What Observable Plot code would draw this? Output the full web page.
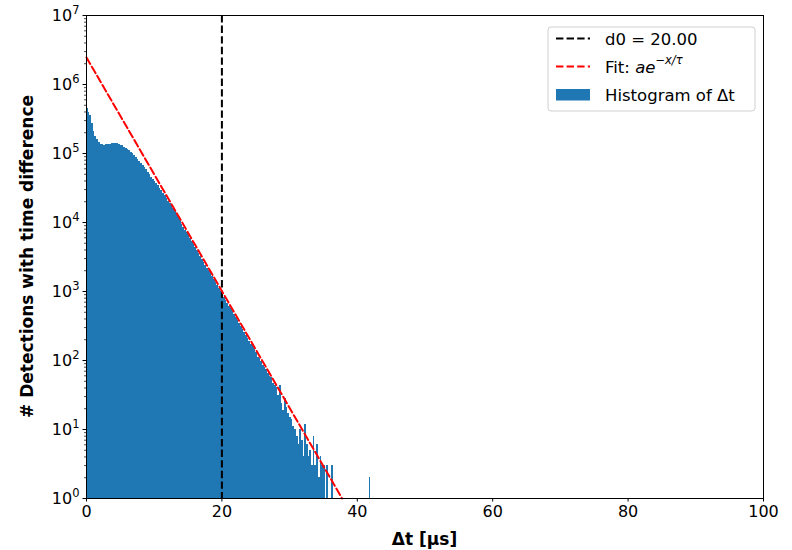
<!DOCTYPE html>
<html><head><meta charset="utf-8">
<script src="https://cdn.jsdelivr.net/npm/d3@7"></script>
<script src="https://cdn.jsdelivr.net/npm/@observablehq/plot@0.6"></script>
<style>body{margin:0;background:#fff}</style>
</head><body><div id="chart"></div>
<script>
// Histogram of Δt (bin width 0.25 µs, starting at 0)
const binWidth = 0.25;
const binOrigin = 0;
const counts = [
447000,398000,351000,275000,207000,178000,158000,146000,136000,133000,
132000,133000,134000,135000,137000,139000,141000,140000,138000,135000,
132000,129000,123000,119000,115000,110000,105000,98900,93300,87500,
82200,77300,72400,68100,63100,58200,53700,49000,45200,41700,
38900,36300,33900,31600,28800,26300,24300,22400,20400,18800,
17400,15800,14600,13300,12200,11100,9460,8570,7780,7060,
6400,5800,5270,4780,4330,3930,3560,3240,2930,2660,
2410,2190,1990,1800,1630,1480,1340,1220,1110,1000,
910,825,748,679,615,558,507,459,417,378,
343,311,282,256,232,210,191,173,165,143,
129,112,106,96,84,79,74,65,59,56,
46,44,40,31,44,24,19,28,21,17,
15,14,11,10,8,6,10,7,4,12,
6,4,5,3,8,3,6,2,4,3,
3,0,3,1,0,3,1,0,1,0,
0,0,0,0,0,0,0,0,0,0,
0,0,0,0,0,0,0,2
];
const d0 = 20;
const fitX = [0, 37.76];
const fitY = [2.46e6, 1];
const xTicks = [0, 20, 40, 60, 80, 100];
const yTicks = [1, 10, 100, 1e3, 1e4, 1e5, 1e6, 1e7];
const xLabel = "Δt [μs]";
const yLabel = "# Detections with time difference";
const legendD0 = "d0 = 20.00";
const legendHist = "Histogram of Δt";

const bins = counts.map((c, i) => ({x1: binOrigin + i * binWidth, x2: binOrigin + (i + 1) * binWidth, c}))
  .filter(d => d.c > 0);
const fitPts = fitX.map((x, i) => ({x, y: fitY[i]}));
const minorTicks = [];
for (let k = 0; k < 7; k++) for (let m = 2; m <= 9; m++) minorTicks.push(m * Math.pow(10, k));

const plot = Plot.plot({
  width: 792, height: 550,
  marginLeft: 86, marginRight: 29, marginTop: 15, marginBottom: 52,
  style: {fontFamily: "DejaVu Sans", fontSize: "16px", background: "white", color: "black", overflow: "visible"},
  x: {domain: [0, 100]},
  y: {type: "log", domain: [1, 1e7]},
  marks: [
    Plot.rect(bins, {x1: "x1", x2: "x2", y1: d => 1, y2: "c", fill: "#1f77b4", inset: 0, shapeRendering: "crispEdges"}),
    Plot.ruleX([d0], {stroke: "black", strokeWidth: 2, strokeDasharray: "7.4,3.2"}),
    Plot.line(fitPts, {x: "x", y: "y", stroke: "red", strokeWidth: 2, strokeDasharray: "7.4,3.2"}),
    Plot.frame({stroke: "black", strokeWidth: 1}),
    Plot.axisX({ticks: xTicks, tickSize: 3.5, tickPadding: 3.5, label: null, tickFormat: d => String(d)}),
    Plot.axisY({ticks: minorTicks, tickSize: 2, tickFormat: () => "", label: null, strokeWidth: 0.7}),
    Plot.axisY({ticks: yTicks, tickSize: 3.5, tickPadding: 3.5, label: null, tickFormat: d => String(Math.round(Math.log10(d)))})
  ]
});
document.getElementById("chart").appendChild(plot);

const svg = d3.select(plot);
// superscript exponents on y tick labels
svg.selectAll('g[aria-label="y-axis tick label"] text').each(function() {
  const t = this.textContent;
  if (t === "") return;
  this.textContent = "";
  const s = d3.select(this);
  s.append("tspan").text("10");
  s.append("tspan").attr("dy", "-0.55em").attr("font-size", "11.5px").text(t);
});

// axis labels
svg.append("text").attr("x", 424.5).attr("y", 545).attr("text-anchor", "middle")
  .attr("font-weight", "bold").attr("font-size", "17px").attr("font-family", "DejaVu Sans").text(xLabel);
svg.append("text").attr("transform", "translate(33,256.5) rotate(-90)").attr("text-anchor", "middle")
  .attr("font-weight", "bold").attr("font-size", "17px").attr("font-family", "DejaVu Sans").text(yLabel);

// legend
const lg = svg.append("g").attr("font-family", "DejaVu Sans").attr("font-size", "16.5px").attr("text-anchor", "start");
lg.append("rect").attr("x", 548).attr("y", 27).attr("width", 207).attr("height", 84).attr("rx", 3)
  .attr("fill", "white").attr("fill-opacity", 0.8).attr("stroke", "#d0d0d0");
lg.append("line").attr("x1", 556).attr("x2", 590).attr("y1", 38.5).attr("y2", 38.5)
  .attr("stroke", "black").attr("stroke-width", 2).attr("stroke-dasharray", "7.4,3.2");
lg.append("line").attr("x1", 556).attr("x2", 590).attr("y1", 66.5).attr("y2", 66.5)
  .attr("stroke", "red").attr("stroke-width", 2).attr("stroke-dasharray", "7.4,3.2");
lg.append("rect").attr("x", 556).attr("y", 89).attr("width", 34).attr("height", 11.5).attr("fill", "#1f77b4");
lg.append("text").attr("x", 605).attr("y", 44.5).attr("text-anchor", "start").text(legendD0);
const ft = lg.append("text").attr("x", 605).attr("y", 72.5).attr("text-anchor", "start");
ft.append("tspan").text("Fit: ");
ft.append("tspan").attr("font-style", "italic").text("ae");
ft.append("tspan").attr("font-style", "italic").attr("font-size", "11.5px").attr("dy", "-0.75em").text("−x/τ");
lg.append("text").attr("x", 605).attr("y", 100.5).attr("text-anchor", "start").text(legendHist);
</script>
</body></html>
